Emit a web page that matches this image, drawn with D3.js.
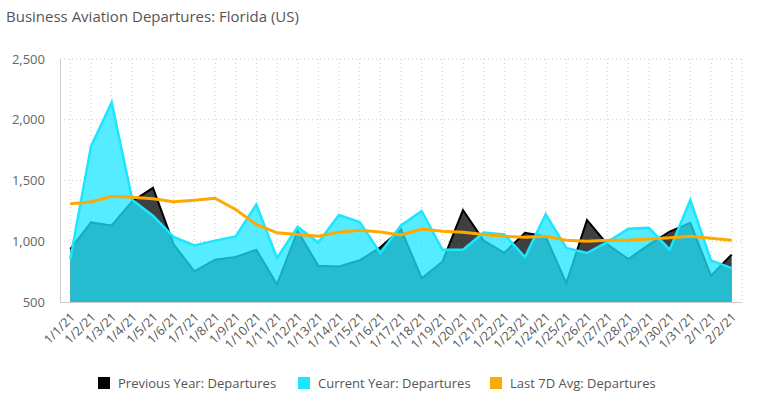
<!DOCTYPE html>
<html>
<head>
<meta charset="utf-8">
<script src="https://cdn.jsdelivr.net/npm/d3@7"></script>
<style>
  body { margin: 0; background: #fff; }
  svg { font-family: "Open Sans", sans-serif; }
</style>
</head>
<body>
<div id="chart"></div>
<script>
var dates = ["1/1/21","1/2/21","1/3/21","1/4/21","1/5/21","1/6/21","1/7/21","1/8/21","1/9/21","1/10/21",
  "1/11/21","1/12/21","1/13/21","1/14/21","1/15/21","1/16/21","1/17/21","1/18/21","1/19/21","1/20/21",
  "1/21/21","1/22/21","1/23/21","1/24/21","1/25/21","1/26/21","1/27/21","1/28/21","1/29/21","1/30/21",
  "1/31/21","2/1/21","2/2/21"];

var prevYear = [935,1155,1130,1330,1440,975,752,848,870,930,
  645,1085,798,793,843,950,1100,696,830,1257,
  1005,905,1069,1040,655,1174,972,854,972,1080,
  1152,716,890];

var curYear = [854,1781,2143,1340,1210,1035,965,1005,1040,1302,
  862,1118,990,1216,1158,903,1130,1249,931,931,
  1072,1055,870,1221,945,903,995,1102,1110,931,
  1340,843,779];

var avg7d = [1309,1323,1370,1362,1350,1326,1337,1354,1262,1138,
  1069,1055,1041,1075,1091,1077,1052,1100,1083,1075,
  1055,1041,1033,1041,1008,1000,1008,1008,1019,1028,
  1041,1025,1008];

var yTicks = [500, 1000, 1500, 2000, 2500];
var seriesNames = ["Previous Year: Departures", "Current Year: Departures", "Last 7D Avg: Departures"];
var colors = ["#000000", "#1ce6ff", "#ffa800"];

var width = 758, height = 399;
var plotLeft = 60, plotRight = 742, plotTop = 59, plotBottom = 302;

var svg = d3.select("#chart").append("svg")
    .attr("width", width)
    .attr("height", height);

svg.append("text")
    .attr("x", 6)
    .attr("y", 22)
    .attr("font-size", 15)
    .attr("fill", "#555")
    .text("Business Aviation Departures: Florida (US)");

var x = d3.scalePoint()
    .domain(dates)
    .range([plotLeft, plotRight])
    .padding(0.5);

var y = d3.scaleLinear()
    .domain([500, 2500])
    .range([plotBottom, plotTop]);

// grid
var grid = svg.append("g");
grid.selectAll(".hgrid")
    .data(yTicks.slice(1))
    .enter().append("line")
    .attr("x1", plotLeft).attr("x2", plotRight)
    .attr("y1", function(d) { return y(d); })
    .attr("y2", function(d) { return y(d); })
    .attr("stroke", "#ccc")
    .attr("stroke-dasharray", "1,3");
grid.selectAll(".vgrid")
    .data(dates)
    .enter().append("line")
    .attr("x1", function(d) { return x(d); })
    .attr("x2", function(d) { return x(d); })
    .attr("y1", plotTop).attr("y2", plotBottom)
    .attr("stroke", "#ccc")
    .attr("stroke-dasharray", "1,3");
grid.append("line")
    .attr("x1", plotRight).attr("x2", plotRight)
    .attr("y1", plotTop).attr("y2", plotBottom)
    .attr("stroke", "#ccc")
    .attr("stroke-dasharray", "1,3");

function area(vals) {
  return d3.area()
      .x(function(d, i) { return x(dates[i]); })
      .y0(plotBottom)
      .y1(function(d) { return y(d); })(vals);
}
function line(vals) {
  return d3.line()
      .x(function(d, i) { return x(dates[i]); })
      .y(function(d) { return y(d); })(vals);
}

// previous year
svg.append("path")
    .attr("d", area(prevYear))
    .attr("fill", colors[0])
    .attr("fill-opacity", 0.75);
svg.append("path")
    .attr("d", line(prevYear))
    .attr("fill", "none")
    .attr("stroke", colors[0])
    .attr("stroke-width", 2);

// current year
svg.append("path")
    .attr("d", area(curYear))
    .attr("fill", colors[1])
    .attr("fill-opacity", 0.75);
svg.append("path")
    .attr("d", line(curYear))
    .attr("fill", "none")
    .attr("stroke", colors[1])
    .attr("stroke-width", 2.5);

// 7 day average
svg.append("path")
    .attr("d", line(avg7d))
    .attr("fill", "none")
    .attr("stroke", colors[2])
    .attr("stroke-width", 3);

// axes
var yAxis = svg.append("g")
    .attr("transform", "translate(" + plotLeft + ",0)")
    .call(d3.axisLeft(y).tickValues(yTicks).tickSize(0).tickPadding(15).tickFormat(d3.format(",")));
yAxis.select(".domain").attr("stroke", "#ccc");
yAxis.selectAll("text")
    .attr("font-size", 13)
    .attr("fill", "#666")
    .attr("font-family", "Open Sans, sans-serif");

var xAxis = svg.append("g")
    .attr("transform", "translate(0," + plotBottom + ")")
    .call(d3.axisBottom(x).tickSize(0).tickPadding(0));
xAxis.select(".domain").attr("stroke", "#ccc").attr("d", "M" + plotLeft + ",0.5H" + plotRight);
xAxis.selectAll("text")
    .attr("font-size", 12.5)
    .attr("fill", "#555")
    .attr("font-family", "Open Sans, sans-serif")
    .attr("text-anchor", "end")
    .attr("dy", 0)
    .attr("transform", "translate(5,16) rotate(-45)");

// legend
var legendX = [98, 298, 490];
var legend = svg.append("g");
seriesNames.forEach(function(name, i) {
  legend.append("rect")
      .attr("x", legendX[i])
      .attr("y", 377)
      .attr("width", 12)
      .attr("height", 12)
      .attr("fill", colors[i]);
  legend.append("text")
      .attr("x", legendX[i] + 20)
      .attr("y", 388)
      .attr("font-size", 13)
      .attr("fill", "#555")
      .text(name);
});
</script>
</body>
</html>
